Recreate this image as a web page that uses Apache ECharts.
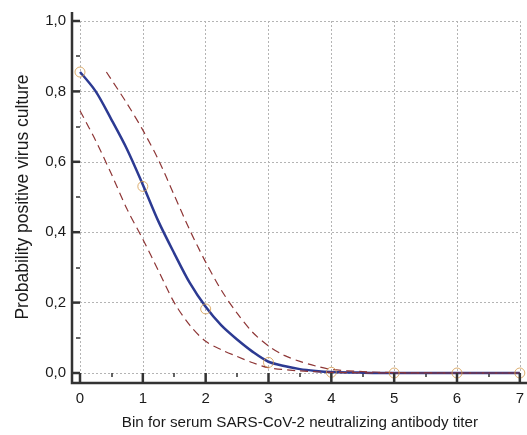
<!DOCTYPE html>
<html>
<head>
<meta charset="utf-8">
<script src="https://cdn.jsdelivr.net/npm/echarts@6/dist/echarts.min.js"></script>
<style>
  html, body { margin: 0; padding: 0; background: #fff; }
  #chart { width: 527px; height: 435px; }
</style>
</head>
<body>
<div id="chart"></div>
<script>
// observed proportions per titer bin
const binX = [0, 1, 2, 3, 4, 5, 6, 7];
const observed = [0.855, 0.53, 0.182, 0.03, 0.002, 0, 0, 0];

// fitted curve
const fitX = [0, 0.25, 0.5, 0.75, 1, 1.25, 1.5, 1.75, 2, 2.25, 2.5, 2.75, 3, 3.25, 3.5, 3.75, 4, 4.5, 5, 6, 7];
const fitY = [0.855, 0.8, 0.72, 0.635, 0.535, 0.43, 0.34, 0.255, 0.188, 0.135, 0.095, 0.06, 0.032, 0.02, 0.011, 0.006, 0.003, 0.001, 0, 0, 0];

// confidence band (dashed)
const upperX = [0.42, 0.75, 1, 1.25, 1.5, 1.75, 2, 2.25, 2.5, 2.75, 3, 3.25, 3.5, 3.75, 4, 4.5, 5, 6, 7];
const upperY = [0.855, 0.765, 0.69, 0.605, 0.505, 0.405, 0.315, 0.235, 0.17, 0.115, 0.077, 0.05, 0.033, 0.02, 0.01, 0.004, 0.001, 0, 0];
const lowerX = [0, 0.25, 0.5, 0.75, 1, 1.25, 1.5, 1.75, 2, 2.25, 2.5, 2.75, 3, 3.5, 4, 5, 6, 7];
const lowerY = [0.745, 0.66, 0.565, 0.465, 0.38, 0.29, 0.2, 0.135, 0.09, 0.066, 0.047, 0.029, 0.015, 0.006, 0.002, 0, 0, 0];

// tick values
const xTicks = [0, 1, 2, 3, 4, 5, 6, 7];
const yTicks = [0, 0.2, 0.4, 0.6, 0.8, 1.0];

const zip = (xs, ys) => xs.map((x, i) => [x, ys[i]]);

const chart = echarts.init(document.getElementById('chart'));

const gridLine = { show: true, lineStyle: { color: '#b4b4b4', type: [2, 2], width: 1 } };
const bandStyle = { color: '#8e3636', width: 1.2, type: [8, 5] };
const axisColor = '#333';

chart.setOption({
  animation: false,
  textStyle: { fontFamily: 'Liberation Sans, Arial, sans-serif' },
  grid: { left: 80, right: 1, top: 21, bottom: 60 },
  xAxis: {
    type: 'value',
    min: 0, max: 7, interval: 1,
    name: 'Bin for serum SARS-CoV-2 neutralizing antibody titer',
    nameLocation: 'middle',
    nameGap: 42,
    nameTextStyle: { fontSize: 15.2, color: '#1a1a1a' },
    axisLine: { show: false },
    axisTick: { show: false },
    minorTick: { show: true, splitNumber: 2, length: 4, lineStyle: { color: axisColor, width: 1.5 } },
    axisLabel: { margin: 18, fontSize: 15, color: '#1a1a1a' },
    splitLine: gridLine
  },
  yAxis: {
    type: 'value',
    min: 0, max: 1, interval: 0.2,
    name: 'Probability positive virus culture',
    nameLocation: 'middle',
    nameGap: 48,
    nameTextStyle: { fontSize: 17.5, color: '#1a1a1a' },
    axisLine: { show: false },
    axisTick: { show: false },
    minorTick: { show: true, splitNumber: 2, length: 4, lineStyle: { color: axisColor, width: 1.5 } },
    axisLabel: {
      margin: 14, fontSize: 15, color: '#1a1a1a',
      formatter: v => v.toFixed(1).replace('.', ',')
    },
    splitLine: gridLine
  },
  series: [
    {
      type: 'line', data: zip(fitX, fitY), smooth: 0.3,
      showSymbol: false, clip: false, z: 2,
      lineStyle: { color: '#2c3a92', width: 2.5 }
    },
    {
      type: 'line', data: zip(upperX, upperY), smooth: 0.3,
      showSymbol: false, clip: false, z: 3, lineStyle: bandStyle
    },
    {
      type: 'line', data: zip(lowerX, lowerY), smooth: 0.3,
      showSymbol: false, clip: false, z: 3, lineStyle: bandStyle
    },
    {
      type: 'scatter', data: zip(binX, observed), clip: false, z: 4,
      symbol: 'circle', symbolSize: 10,
      itemStyle: { color: 'rgba(255,255,255,0)', borderColor: '#d39a4c', borderWidth: 1 }
    }
  ]
});

// axis frame sits a few pixels outside the plot, major ticks bridge the gap
const origin = chart.convertToPixel({ gridIndex: 0 }, [0, 0]);
const axisX = origin[0] - 8;
const axisY = origin[1] + 10;
const segment = pts => ({
  type: 'polyline', z: 100, silent: true,
  shape: { points: pts },
  style: { stroke: axisColor, lineWidth: 2.5, fill: null }
});
const frame = [segment([[axisX, 12], [axisX, axisY], [527, axisY]])];
xTicks.forEach(v => {
  const px = chart.convertToPixel({ xAxisIndex: 0 }, v);
  frame.push(segment([[px, origin[1]], [px, axisY]]));
});
yTicks.forEach(v => {
  const py = chart.convertToPixel({ yAxisIndex: 0 }, v);
  frame.push(segment([[axisX, py], [origin[0], py]]));
});
chart.setOption({ graphic: { elements: frame } });
</script>
</body>
</html>
